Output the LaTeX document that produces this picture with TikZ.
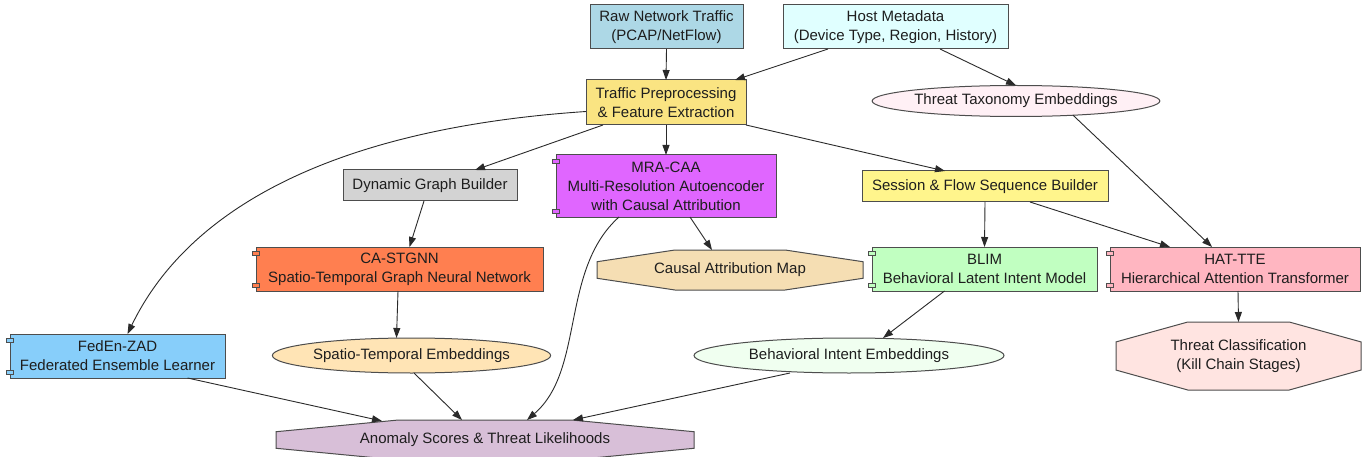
\documentclass[tikz,border=0pt]{standalone}
\usepackage{fontspec}
\setmainfont{Liberation Sans}
\usetikzlibrary{arrows.meta,calc,shapes.geometric}
\pgfdeclarelayer{bg}
\pgfsetlayers{bg,main}
\definecolor{bordercol}{HTML}{4D4D4D}
\definecolor{edgecol}{HTML}{2A2A2A}
\definecolor{txtcol}{HTML}{1E1E1E}
\definecolor{rawc}{HTML}{ADD8E6}
\definecolor{hostc}{HTML}{E0FFFF}
\definecolor{prepc}{HTML}{FAE482}
\definecolor{taxoc}{HTML}{FFF0F5}
\definecolor{dgbc}{HTML}{D3D3D3}
\definecolor{mrac}{HTML}{E066FF}
\definecolor{sessc}{HTML}{FFF58C}
\definecolor{cac}{HTML}{FF7F50}
\definecolor{camc}{HTML}{F5DEB3}
\definecolor{blimc}{HTML}{C1FFC1}
\definecolor{hatc}{HTML}{FFB6C1}
\definecolor{fedc}{HTML}{87CEFA}
\definecolor{stec}{HTML}{FFE4B5}
\definecolor{biec}{HTML}{F0FFF0}
\definecolor{tcc}{HTML}{FFE4E1}
\definecolor{anomc}{HTML}{D8BFD8}
\tikzset{
  base/.style={line width=1pt, inner sep=0pt, outer sep=0pt, align=center,
    font=\fontsize{15}{19}\selectfont, text=txtcol},
  box/.style={base, draw=bordercol, rectangle},
  ell/.style={base, draw=bordercol, ellipse},
  oct/.style={base, draw=none, rectangle},
  edge/.style={draw=edgecol, line width=0.9pt, -{Triangle[length=10pt,width=7pt]}},
}
\newcommand{\octo}[2]{%
  \begin{pgfonlayer}{bg}
  \filldraw[fill=#2, draw=bordercol, line width=1pt]
    ($(#1.north west)!0.293!(#1.north east)$) --
    ($(#1.north west)!0.707!(#1.north east)$) --
    ($(#1.north east)!0.293!(#1.south east)$) --
    ($(#1.north east)!0.707!(#1.south east)$) --
    ($(#1.south west)!0.707!(#1.south east)$) --
    ($(#1.south west)!0.293!(#1.south east)$) --
    ($(#1.north west)!0.707!(#1.south west)$) --
    ($(#1.north west)!0.293!(#1.south west)$) -- cycle;
  \end{pgfonlayer}}
\newcommand{\notch}[2]{%
  \filldraw[fill=#2, draw=bordercol, line width=0.8pt]
    ([xshift=-3.5pt,yshift=-4pt]#1.north west) rectangle ([xshift=3.5pt,yshift=-8pt]#1.north west);
  \filldraw[fill=#2, draw=bordercol, line width=0.8pt]
    ([xshift=-3.5pt,yshift=4pt]#1.south west) rectangle ([xshift=3.5pt,yshift=8pt]#1.south west);}
\begin{document}
\begin{tikzpicture}[x=1pt,y=-1pt]
\useasboundingbox (0,0) rectangle (1370,457);
\begin{pgfonlayer}{bg}
\fill[white] (0,0) rectangle (1370,457);
\end{pgfonlayer}
% nodes
\node[box, fill=rawc, minimum width=153pt, minimum height=44pt] (raw) at (666.5,27) {Raw Network Traffic\\(PCAP/NetFlow)};
\node[box, fill=hostc, minimum width=225pt, minimum height=44pt] (host) at (895.5,27) {Host Metadata\\(Device Type, Region, History)};
\node[box, fill=prepc, minimum width=160pt, minimum height=45pt] (prep) at (666,102.5) {Traffic Preprocessing\\\& Feature Extraction};
\node[ell, fill=taxoc, minimum width=247pt, minimum height=31pt] (taxo) at (1016,101) {Threat Taxonomy Embeddings};
\node[box, fill=dgbc, minimum width=174pt, minimum height=31pt] (dgb) at (430,185.5) {Dynamic Graph Builder};
\node[box, fill=mrac, minimum width=220pt, minimum height=62pt] (mra) at (666,186) {MRA-CAA\\Multi-Resolution Autoencoder\\with Causal Attribution};
\node[box, fill=sessc, minimum width=246pt, minimum height=31pt] (sess) at (985,186.5) {Session \& Flow Sequence Builder};
\node[box, fill=cac, minimum width=287pt, minimum height=44pt] (ca) at (399.5,269) {CA-STGNN\\Spatio-Temporal Graph Neural Network};
\node[oct, minimum width=266pt, minimum height=40pt] (cam) at (730,270) {Causal Attribution Map};
\node[box, fill=blimc, minimum width=225pt, minimum height=44pt] (blim) at (984.5,269) {BLIM\\Behavioral Latent Intent Model};
\node[box, fill=hatc, minimum width=250pt, minimum height=44pt] (hat) at (1235,269) {HAT-TTE\\Hierarchical Attention Transformer};
\node[box, fill=fedc, minimum width=215pt, minimum height=44pt] (fed) at (117.5,356) {FedEn-ZAD\\Federated Ensemble Learner};
\node[ell, fill=stec, minimum width=257pt, minimum height=35pt] (ste) at (411.5,355.5) {Spatio-Temporal Embeddings};
\node[ell, fill=biec, minimum width=310pt, minimum height=35pt] (bie) at (849,355.5) {Behavioral Intent Embeddings};
\node[oct, minimum width=245pt, minimum height=68pt] (tc) at (1238.5,356) {Threat Classification\\(Kill Chain Stages)};
\node[oct, minimum width=418pt, minimum height=40pt] (anom) at (485,440) {Anomaly Scores \& Threat Likelihoods};
\octo{cam}{camc}
\octo{tc}{tcc}
\octo{anom}{anomc}
\notch{mra}{mrac}
\notch{ca}{cac}
\notch{blim}{blimc}
\notch{hat}{hatc}
\notch{fed}{fedc}
% edges
\draw[edge] (raw.south) -- (prep.north);
\draw[edge] ([xshift=45pt]host.south west) -- ([xshift=-11pt]prep.north east);
\draw[edge] ([xshift=157pt]host.south west) -- (taxo.north);
\draw[edge] ([yshift=-9pt]prep.west) .. controls (340,128) and (190,205) .. ([xshift=10pt]fed.north);
\draw[edge] ([xshift=17pt]prep.south west) -- ([xshift=45pt]dgb.north);
\draw[edge] (prep.south) -- (mra.north);
\draw[edge] (prep.south east) -- ([xshift=-40pt]sess.north);
\draw[edge] (taxo.-14) -- ([xshift=-23pt]hat.north);
\draw[edge] ([xshift=-6pt]dgb.south) -- ([xshift=10pt]ca.north);
\draw[edge] ([xshift=24pt]mra.south) -- ([xshift=-18pt]cam.north);
\draw[edge] ([xshift=-47pt]mra.south) .. controls (560,270) and (585,370) .. ([xshift=42pt]anom.north);
\draw[edge] (sess.south) -- (blim.north);
\draw[edge] ([xshift=45pt]sess.south) -- ([xshift=-65pt]hat.north);
\draw[edge] ([xshift=-1.5pt]ca.south) -- ([xshift=-15pt]ste.north);
\draw[edge] ([xshift=-40pt]blim.south) -- ([xshift=34pt]bie.north);
\draw[edge] ([xshift=3pt]hat.south) -- (tc.north);
\draw[edge] ([xshift=70pt]fed.south) -- ([xshift=-103pt,yshift=-1pt]anom.north);
\draw[edge] ([xshift=2.5pt]ste.south) -- ([xshift=-23pt]anom.north);
\draw[edge] ([xshift=-59pt]bie.south) -- ([xshift=88pt]anom.north);
\end{tikzpicture}
\end{document}
